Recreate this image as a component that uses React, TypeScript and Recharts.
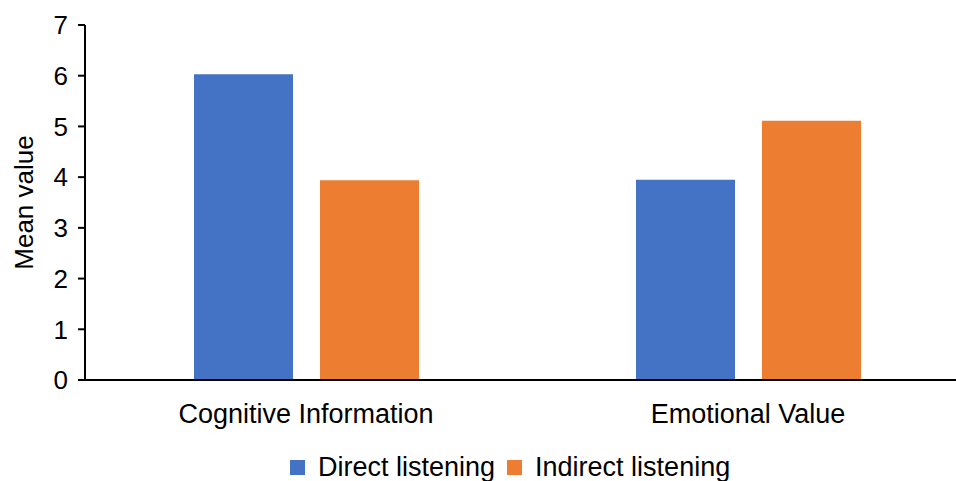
import React from 'react';
import { Bar, BarChart, Label, Legend, XAxis, YAxis } from 'recharts';

const categories = ['Cognitive Information', 'Emotional Value'];
const directValues = [6.03, 3.95];
const indirectValues = [3.94, 5.11];
const yTicks = [0, 1, 2, 3, 4, 5, 6, 7];

const BLUE = '#4472C4';
const ORANGE = '#ED7D31';
const FONT = '"Liberation Sans", Arial, sans-serif';

const data = categories.map((name, i) => ({
  name,
  direct: directValues[i],
  indirect: indirectValues[i],
}));

function LegendContent() {
  const items = [
    { label: 'Direct listening', color: BLUE },
    { label: 'Indirect listening', color: ORANGE },
  ];
  return (
    <div style={{ display: 'flex', alignItems: 'center', height: 30, fontFamily: FONT, fontSize: 27, lineHeight: '30px', color: '#000' }}>
      {items.map((it) => (
        <span key={it.label} style={{ display: 'flex', alignItems: 'center', marginRight: 12 }}>
          <span style={{ width: 15, height: 15, background: it.color, marginRight: 13, display: 'inline-block' }} />
          {it.label}
        </span>
      ))}
    </div>
  );
}

export default function App() {
  return (
    <div style={{ position: 'fixed', left: 0, top: 0, width: 956, height: 481, overflow: 'hidden', background: '#fff' }}>
      <BarChart
        width={975}
        height={481}
        data={data}
        margin={{ top: 25, right: 6, bottom: 0, left: 0 }}
        barSize={99}
        barGap={27}
      >
        <XAxis
          dataKey="name"
          axisLine={{ stroke: '#000', strokeWidth: 2 }}
          tickLine={false}
          tickSize={0}
          tickMargin={24}
          height={71}
          tick={{ fontSize: 27, fill: '#000', fontFamily: FONT }}
        />
        <YAxis
          domain={[0, 7]}
          ticks={yTicks}
          width={85}
          axisLine={{ stroke: '#000', strokeWidth: 2 }}
          tickLine={{ stroke: '#000', strokeWidth: 2 }}
          tickSize={7}
          tickMargin={10}
          tick={{ fontSize: 26, fill: '#000', fontFamily: FONT }}
        >
          <Label
            value="Mean value"
            angle={-90}
            position="insideLeft"
            offset={24}
            style={{ fontSize: 26, fill: '#000', fontFamily: FONT, textAnchor: 'middle' }}
          />
        </YAxis>
        <Legend
          verticalAlign="bottom"
          content={<LegendContent />}
          wrapperStyle={{ left: 290, top: 452, width: 520, height: 30 }}
        />
        <Bar dataKey="direct" name="Direct listening" fill={BLUE} isAnimationActive={false} />
        <Bar dataKey="indirect" name="Indirect listening" fill={ORANGE} isAnimationActive={false} />
      </BarChart>
    </div>
  );
}
